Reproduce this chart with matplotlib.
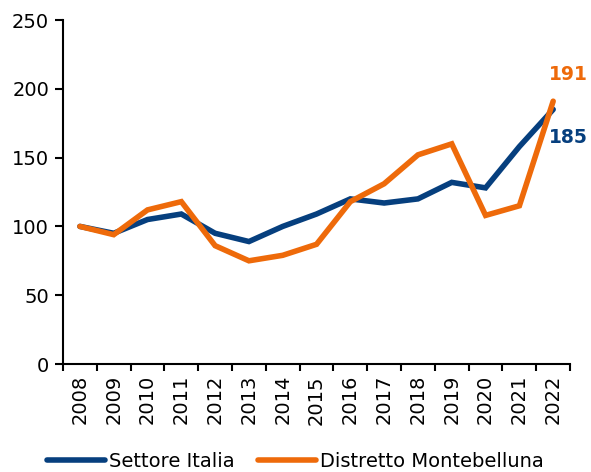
import matplotlib
matplotlib.use("Agg")
import matplotlib.pyplot as plt
import numpy as np

years = ["2008", "2009", "2010", "2011", "2012", "2013", "2014", "2015",
         "2016", "2017", "2018", "2019", "2020", "2021", "2022"]
settore_italia = [100, 95, 105, 109, 95, 89, 100, 109, 120, 117, 120, 132, 128, 158, 185]
distretto_montebelluna = [100, 94, 112, 118, 86, 75, 79, 87, 118, 131, 152, 160, 108, 115, 191]
y_ticks = [0, 50, 100, 150, 200, 250]

BLUE = "#063F7E"
ORANGE = "#EE6A0A"

plt.rcParams['font.family'] = ['DejaVu Sans']

fig = plt.figure(figsize=(5.91, 4.72), dpi=100)
ax = fig.add_axes([0.1066, 0.2288, 0.858, 0.7288])

x = np.arange(len(years))
ax.plot(x, settore_italia, color=BLUE, lw=4, solid_capstyle='round', solid_joinstyle='miter', label="Settore Italia")
ax.plot(x, distretto_montebelluna, color=ORANGE, lw=4, solid_capstyle='round', solid_joinstyle='miter', label="Distretto Montebelluna")

ax.set_xlim(-0.5, len(years) - 0.5)
ax.set_ylim(0, 250)
ax.set_yticks(y_ticks)
ax.set_yticklabels([str(v) for v in y_ticks], fontsize=14)
ax.set_xticks(x)
ax.set_xticklabels(years, rotation=90, fontsize=14)
ax.set_xticks(np.arange(len(years) + 1) - 0.5, minor=True)
ax.tick_params(axis='x', which='major', length=0, pad=8)
ax.tick_params(axis='x', which='minor', length=5, width=1.5, direction='out')
ax.tick_params(axis='y', length=6, width=1.5, direction='out', pad=4)

for s in ['top', 'right']:
    ax.spines[s].set_visible(False)
for s in ['left', 'bottom']:
    ax.spines[s].set_linewidth(1.5)

ax.annotate(str(distretto_montebelluna[-1]), xy=(x[-1], distretto_montebelluna[-1]),
            xytext=(-3, 19.5), textcoords='offset points', color=ORANGE,
            fontsize=13.5, fontweight='bold', ha='left', va='center')
ax.annotate(str(settore_italia[-1]), xy=(x[-1], settore_italia[-1]),
            xytext=(-3, -20), textcoords='offset points', color=BLUE,
            fontsize=13.5, fontweight='bold', ha='left', va='center')

fig.legend(loc='lower center', bbox_to_anchor=(0.5, -0.035), ncol=2, frameon=False,
           fontsize=14, handlelength=3.0, handletextpad=0.2, columnspacing=1.2)

fig.savefig("out.png", dpi=100)
